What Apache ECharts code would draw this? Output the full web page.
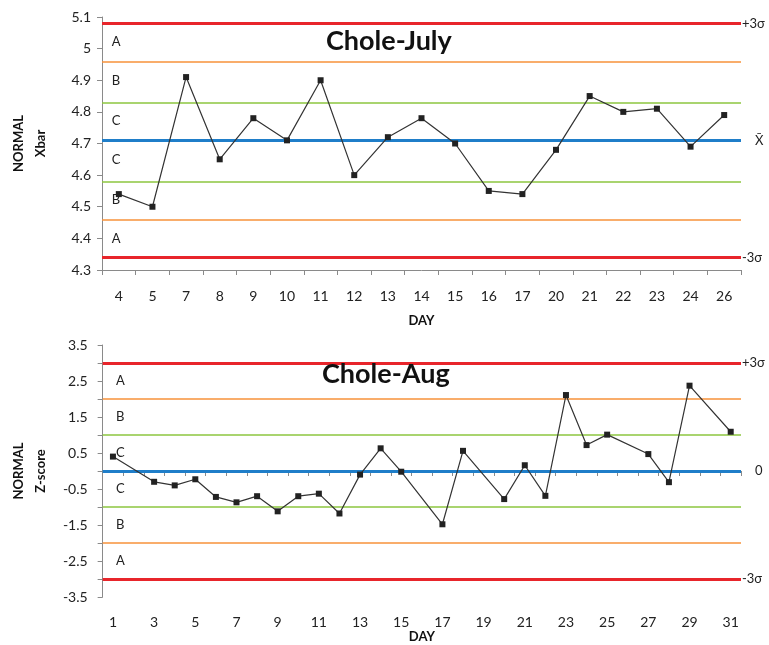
<!DOCTYPE html>
<html>
<head>
<meta charset="utf-8">
<script src="https://cdn.jsdelivr.net/npm/echarts@6/dist/echarts.min.js"></script>
<style>
html,body{margin:0;padding:0;background:#fff;}
#c{width:769px;height:645px;}
</style>
</head>
<body>
<div id="c"></div>
<script>
// ---- data ----
var julyDays = ['4','5','7','8','9','10','11','12','13','14','15','16','17','20','21','22','23','24','26'];
var julyXbar = [4.54,4.50,4.91,4.65,4.78,4.71,4.90,4.60,4.72,4.78,4.70,4.55,4.54,4.68,4.85,4.80,4.81,4.69,4.79];
var julyLimits = [5.08,4.96,4.835,4.71,4.585,4.46,4.34];
var julyLimitLabels = ['+3σ','','','X\u0304','','','-3σ'];
var julyYTicks = {min:4.3, max:5.1, interval:0.1};

var augDays = ['1','2','3','4','5','6','7','8','9','10','11','12','13','14','15','16','17','18','19','20','21','22','23','24','25','26','27','28','29','30','31'];
var augZ = [0.40,null,-0.30,-0.40,-0.23,-0.72,-0.87,-0.70,-1.12,-0.70,-0.63,-1.18,-0.10,0.63,-0.02,null,-1.48,0.56,null,-0.78,0.16,-0.69,2.11,0.72,1.01,null,0.47,-0.31,2.37,null,1.09];
var augLimits = [3,2,1,0,-1,-2,-3];
var augLimitLabels = ['+3σ','','','0','','','-3σ'];
var augYTicks = {min:-3.5, max:3.5, interval:0.5};

var zoneLetters = ['A','B','C','C','B','A'];

// ---- styling ----
var FONT = 'Lato, "Open Sans", sans-serif';
var lineStyles = [
  {color:'#e8252b', width:3},
  {color:'#f7923a', width:1.5},
  {color:'#8cc63f', width:1.5},
  {color:'#1f7ec9', width:3},
  {color:'#8cc63f', width:1.5},
  {color:'#f7923a', width:1.5},
  {color:'#e8252b', width:3}
];

function limitLines(limits, labels){
  return limits.map(function(v,i){
    return {
      yAxis: v,
      lineStyle: {color: lineStyles[i].color, width: lineStyles[i].width, type:'solid'},
      label: {show: labels[i] !== '', formatter: labels[i], position:'end', distance: (labels[i]==='X\u0304'||labels[i]==='0') ? 14 : 1,
               color:'#222', fontSize:13, fontFamily:FONT}
    };
  });
}
function zonePoints(limits, xOffset){
  var pts = [];
  for (var i=0;i<limits.length-1;i++){
    pts.push({
      coord:[0,(limits[i]+limits[i+1])/2],
      symbolSize:0,
      label:{show:true, formatter: zoneLetters[i], color:'#222', fontSize:13, fontFamily:FONT,
             position:'inside', offset:[xOffset,0], align:'left'}
    });
  }
  return pts;
}

var axisLineStyle = {lineStyle:{color:'#8a8a8a', width:1}};
var axisTickStyle = {show:true, length:5, lineStyle:{color:'#8a8a8a'}};

var option = {
  animation:false,
  backgroundColor:'#fff',
  title:[
    {text:'Chole-July', left:321, top:23, textStyle:{fontSize:27, fontWeight:'bold', color:'#111', fontFamily:FONT}},
    {text:'Chole-Aug', left:317, top:356, textStyle:{fontSize:27, fontWeight:'bold', color:'#111', fontFamily:FONT}}
  ],
  grid:[
    {left:97, right:28, top:17, height:253},
    {left:94, right:28, top:345, height:252}
  ],
  xAxis:[
    {type:'category', gridIndex:0, data:julyDays, boundaryGap:true,
     axisLine:axisLineStyle, axisTick:axisTickStyle,
     axisLabel:{color:'#222', fontSize:14, fontFamily:FONT, margin:19, interval:0},
     name:'DAY', nameLocation:'middle', nameGap:44,
     nameTextStyle:{fontWeight:'bold', fontSize:13, color:'#111', fontFamily:FONT}},
    {type:'category', gridIndex:1, data:augDays, boundaryGap:true,
     axisLine:axisLineStyle, axisTick:{show:true, length:5, interval:0, lineStyle:{color:'#8a8a8a'}},
     axisLabel:{color:'#222', fontSize:14, fontFamily:FONT, margin:18, interval:1},
     name:'DAY', nameLocation:'middle', nameGap:31,
     nameTextStyle:{fontWeight:'bold', fontSize:13, color:'#111', fontFamily:FONT}}
  ],
  yAxis:[
    {type:'value', gridIndex:0, min:julyYTicks.min, max:julyYTicks.max, interval:julyYTicks.interval,
     axisLine:{show:true, lineStyle:{color:'#8a8a8a'}}, axisTick:axisTickStyle, splitLine:{show:false},
     axisLabel:{color:'#222', fontSize:14, fontFamily:FONT, margin:11,
                formatter:function(v){return String(Math.round(v*10)/10);}},
     name:'NORMAL\nXbar', nameLocation:'middle', nameRotate:90, nameGap:50,
     nameTextStyle:{fontWeight:'bold', fontSize:13, color:'#111', fontFamily:FONT, lineHeight:22}},
    {type:'value', gridIndex:1, min:augYTicks.min, max:augYTicks.max, interval:augYTicks.interval,
     axisLine:{show:true, lineStyle:{color:'#8a8a8a'}}, axisTick:axisTickStyle, splitLine:{show:false},
     axisLabel:{color:'#222', fontSize:14, fontFamily:FONT, margin:15,
                formatter:function(v){ return (Math.abs(v % 1) > 0.25) ? String(v) : ''; }},
     name:'NORMAL\nZ-score', nameLocation:'middle', nameRotate:90, nameGap:48,
     nameTextStyle:{fontWeight:'bold', fontSize:13, color:'#111', fontFamily:FONT, lineHeight:22}}
  ],
  series:[
    {type:'line', xAxisIndex:0, yAxisIndex:0, data:julyXbar, z:5,
     symbol:'rect', symbolSize:6, itemStyle:{color:'#222'},
     lineStyle:{color:'#333', width:1.2},
     markLine:{silent:true, symbol:'none', z:2, data:limitLines(julyLimits, julyLimitLabels)},
     markPoint:{silent:true, data:zonePoints(julyLimits, -7)}},
    {type:'line', xAxisIndex:1, yAxisIndex:1, data:augZ, connectNulls:true, z:5,
     symbol:'rect', symbolSize:6, itemStyle:{color:'#222'},
     lineStyle:{color:'#333', width:1.2},
     markLine:{silent:true, symbol:'none', z:2, data:limitLines(augLimits, augLimitLabels)},
     markPoint:{silent:true, data:zonePoints(augLimits, 3)}}
  ]
};
echarts.init(document.getElementById('c')).setOption(option);
</script>
</body>
</html>
